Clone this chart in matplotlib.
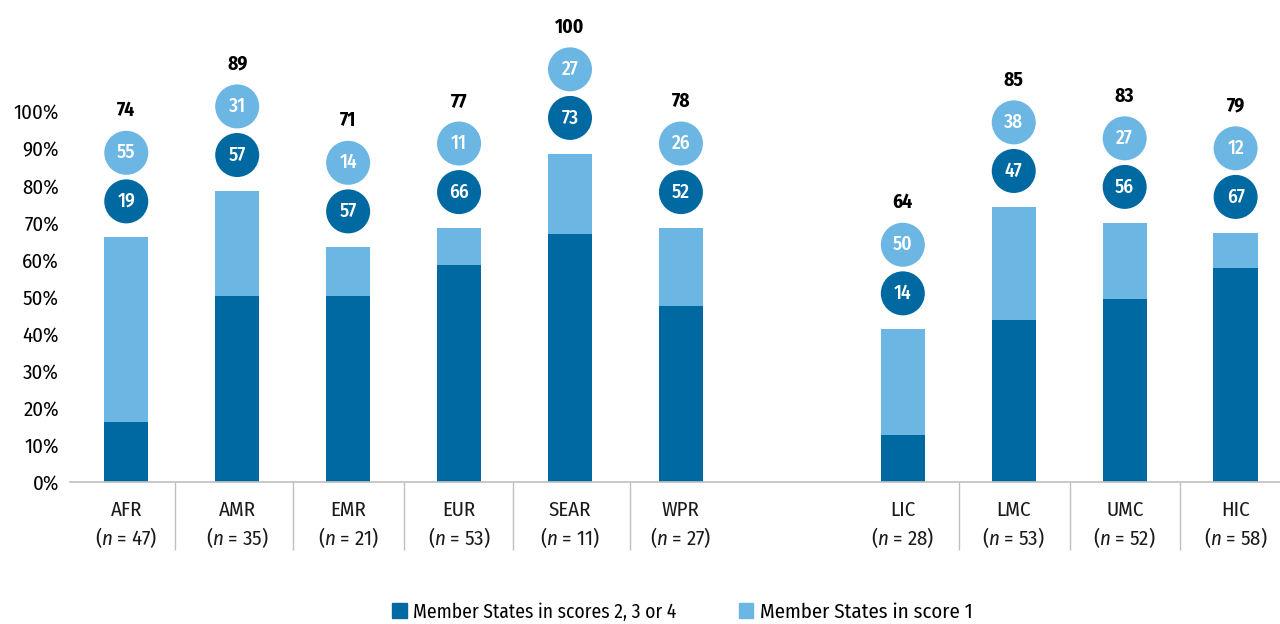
import matplotlib.pyplot as plt
from matplotlib.patches import Patch
import matplotlib.transforms as mtransforms

plt.rcParams["font.family"] = ["Fira Sans Condensed", "DejaVu Sans"]
plt.rcParams["mathtext.fontset"] = "custom"
plt.rcParams["mathtext.it"] = "Fira Sans Condensed:italic"
plt.rcParams["mathtext.rm"] = "Fira Sans Condensed"

# data
categories = ["AFR", "AMR", "EMR", "EUR", "SEAR", "WPR", "LIC", "LMC", "UMC", "HIC"]
n_members = [47, 35, 21, 53, 11, 27, 28, 53, 52, 58]
x_pos = [0, 1, 2, 3, 4, 5, 7, 8, 9, 10]
# bar heights as drawn (% of axis)
bar_dark = [16.3, 50.3, 50.3, 58.5, 66.9, 47.4, 12.7, 43.8, 49.5, 57.8]
bar_light = [49.7, 28.2, 13.0, 10.0, 21.6, 21.1, 28.5, 30.4, 20.4, 9.4]
# labelled percentages
pct_dark = [19, 57, 57, 66, 73, 52, 14, 47, 56, 67]
pct_light = [55, 31, 14, 11, 27, 26, 50, 38, 27, 12]
pct_total = [74, 89, 71, 77, 100, 78, 64, 85, 83, 79]
# group separators on the category axis
separators = [0.44, 1.50, 2.50, 3.49, 4.54, 7.51, 8.51, 9.50]

dark = "#0069A2"
light = "#6CB6E3"

fig = plt.figure(figsize=(12.8, 6.24), dpi=100)
ax = fig.add_axes([0.0547, 0.2274, 0.9453, 0.7726])

ax.bar(x_pos, bar_dark, width=0.4, color=dark)
ax.bar(x_pos, bar_light, width=0.4, bottom=bar_dark, color=light)

for i, x in enumerate(x_pos):
    top = bar_dark[i] + bar_light[i]
    ax.scatter(x, top + 9.7, s=1004, color=dark, edgecolors="none", zorder=3)
    ax.scatter(x, top + 22.8, s=1004, color=light, edgecolors="none", zorder=3)
    ax.text(x, top + 9.7, str(pct_dark[i]), color="white", fontsize=14,
            fontweight="medium", ha="center", va="center", zorder=4)
    ax.text(x, top + 22.8, str(pct_light[i]), color="white", fontsize=14,
            fontweight="medium", ha="center", va="center", zorder=4)
    ax.text(x, top + 34.2, str(pct_total[i]), color="black", fontsize=14,
            fontweight="bold", ha="center", va="center")

ax.set_xlim(-0.507, 10.40)
ax.set_ylim(0, 130)
ax.set_yticks(range(0, 101, 10))
ax.set_yticklabels([f"{v}%" for v in range(0, 101, 10)], fontsize=15)
ax.tick_params(axis="y", length=0, pad=8)

ax.set_xticks(separators)
ax.set_xticklabels([])
ax.tick_params(axis="x", length=49, width=1, color="#BFBFBF", direction="out")

for side in ["top", "right", "left"]:
    ax.spines[side].set_visible(False)
ax.spines["bottom"].set_color("#BFBFBF")
ax.spines["bottom"].set_linewidth(1.2)

trans = mtransforms.blended_transform_factory(ax.transData, fig.transFigure)
for i, x in enumerate(x_pos):
    ax.text(x, 1 - 510 / 624, categories[i], fontsize=15, ha="center",
            va="center", transform=trans, color="#1a1a1a")
    ax.text(x, 1 - 538 / 624, "($n$ = " + str(n_members[i]) + ")", fontsize=15,
            ha="center", va="center", transform=trans, color="#1a1a1a")

handles = [Patch(color=dark), Patch(color=light)]
leg = fig.legend(handles, ["Member States in scores 2, 3 or 4", "Member States in score 1"],
                 loc="center", bbox_to_anchor=(0.533, 1 - 612 / 624), ncol=2,
                 frameon=False, fontsize=15, handlelength=0.7, handleheight=0.7,
                 handletextpad=0.3, columnspacing=3.0)
leg.get_texts()[0].set_fontsize(14)
leg.get_texts()[1].set_fontsize(15)

fig.savefig("out.png", dpi=100)
